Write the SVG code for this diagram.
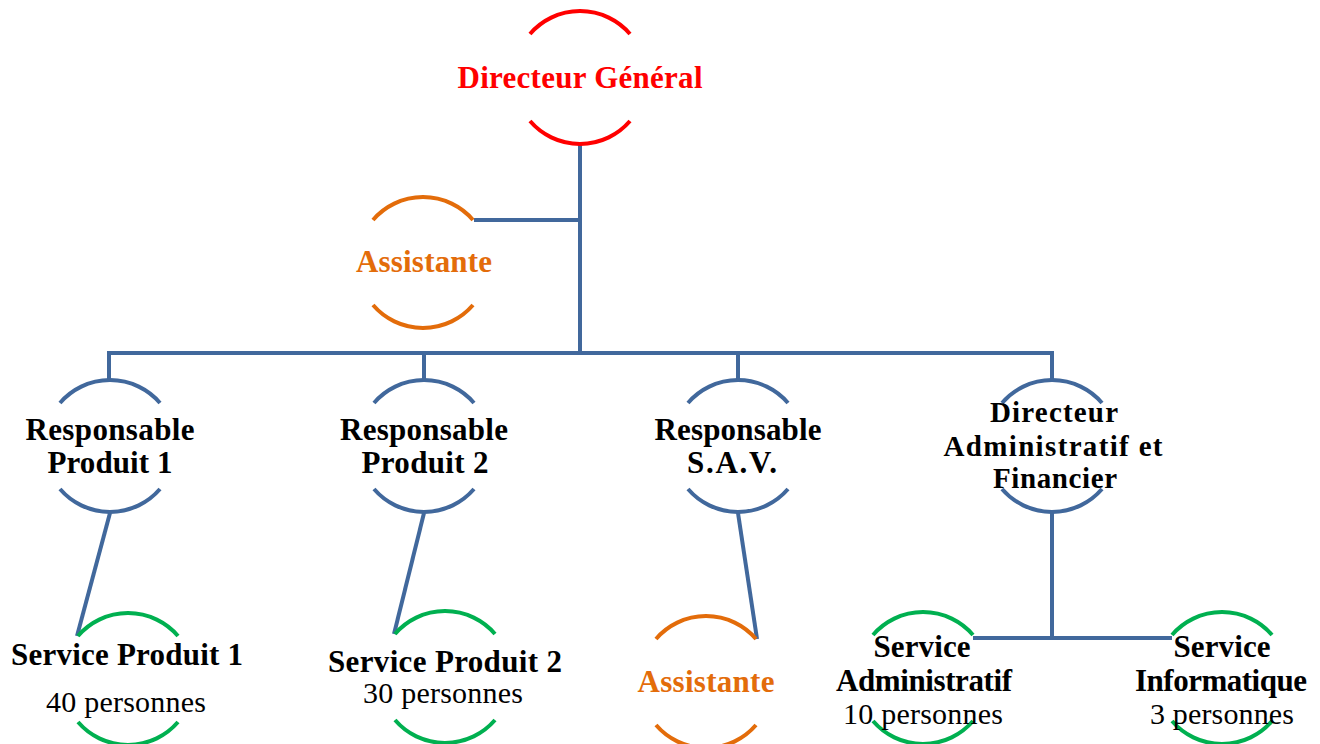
<svg xmlns="http://www.w3.org/2000/svg" width="1320" height="744" viewBox="0 0 1320 744">
<style>
.arc{fill:none;stroke-width:4}
.red{stroke:#FF0000}
.org{stroke:#E36C0A}
.blu{stroke:#41689C}
.grn{stroke:#00B050}
.con{fill:none;stroke:#41689C;stroke-width:4}
text{font-family:"Liberation Serif","Times New Roman",serif;text-anchor:middle}
.b{font-weight:bold;font-size:31px;fill:#000}
.s{font-size:29px}
.r{font-size:30px;fill:#000}
.tr{fill:#FF0000}
.to{fill:#E36C0A}
</style>
<rect width="1320" height="744" fill="#fff"/>
<g id="connectors">
<path class="con" d="M580,143 V353"/>
<path class="con" d="M474,220 H580"/>
<path class="con" d="M109,353 H1052"/>
<path class="con" d="M109,351 V380 M424,351 V380 M738,351 V380 M1052,351 V380"/>
<path class="con" d="M110,513 L77,636"/>
<path class="con" d="M424,513 L394,634"/>
<path class="con" d="M738,513 L757,639"/>
<path class="con" d="M1052,513 V638 M973,638 H1172"/>
</g>
<g id="directeur-general">
<path class="arc red" d="M530,34 A66,66 0 0 1 630,34 M530,121 A66,66 0 0 0 630,121"/>
<text class="b tr" x="580" y="88" textLength="245">Directeur Général</text>
</g>
<g id="assistante-dg">
<path class="arc org" d="M373,220 A66,66 0 0 1 473,220 M373,305 A66,66 0 0 0 473,305"/>
<text class="b to" x="424" y="272" textLength="136">Assistante</text>
</g>
<g id="responsable-produit-1">
<path class="arc blu" d="M60,403 A66,66 0 0 1 160,403 M60,489 A66,66 0 0 0 160,489"/>
<text class="b" x="110" y="440" textLength="169">Responsable</text>
<text class="b" x="110" y="473" textLength="125">Produit  1</text>
</g>
<g id="responsable-produit-2">
<path class="arc blu" d="M374,403 A66,66 0 0 1 474,403 M374,489 A66,66 0 0 0 474,489"/>
<text class="b" x="424" y="440" textLength="168">Responsable</text>
<text class="b" x="425" y="473" textLength="127">Produit  2</text>
</g>
<g id="responsable-sav">
<path class="arc blu" d="M688,403 A66,66 0 0 1 788,403 M688,489 A66,66 0 0 0 788,489"/>
<text class="b" x="738" y="440" textLength="167">Responsable</text>
<text class="b" x="732" y="473" textLength="90">S.A.V.</text>
</g>
<g id="daf">
<path class="arc blu" d="M1002,403 A66,66 0 0 1 1102,403 M1002,489 A66,66 0 0 0 1102,489"/>
<text class="b s" x="1054" y="422" textLength="128">Directeur</text>
<text class="b s" x="1053" y="456" textLength="219">Administratif  et</text>
<text class="b s" x="1055" y="488" textLength="124">Financier</text>
</g>
<g id="service-produit-1">
<path class="arc grn" d="M78,636 A66,66 0 0 1 178,636 M78,722 A66,66 0 0 0 178,722"/>
<text class="b" x="127" y="665" textLength="232">Service Produit  1</text>
<text class="r" x="126" y="712" textLength="160">40 personnes</text>
</g>
<g id="service-produit-2">
<path class="arc grn" d="M395,634 A66,66 0 0 1 495,634 M395,720 A66,66 0 0 0 495,720"/>
<text class="b" x="445" y="672" textLength="234">Service Produit  2</text>
<text class="r" x="443" y="703" textLength="160">30 personnes</text>
</g>
<g id="assistante-sav">
<path class="arc org" d="M656,639 A66,66 0 0 1 756,639 M656,725 A66,66 0 0 0 756,725"/>
<text class="b to" x="706" y="692" textLength="137">Assistante</text>
</g>
<g id="service-administratif">
<path class="arc grn" d="M873,635 A66,66 0 0 1 973,635 M873,721 A66,66 0 0 0 973,721"/>
<text class="b" x="922" y="657" textLength="97">Service</text>
<text class="b" x="924" y="691" textLength="176">Administratif</text>
<text class="r" x="923" y="724" textLength="160">10 personnes</text>
</g>
<g id="service-informatique">
<path class="arc grn" d="M1172,635 A66,66 0 0 1 1272,635 M1172,721 A66,66 0 0 0 1272,721"/>
<text class="b" x="1222" y="657" textLength="97">Service</text>
<text class="b" x="1221" y="691" textLength="172">Informatique</text>
<text class="r" x="1222" y="724" textLength="144">3 personnes</text>
</g>
</svg>
